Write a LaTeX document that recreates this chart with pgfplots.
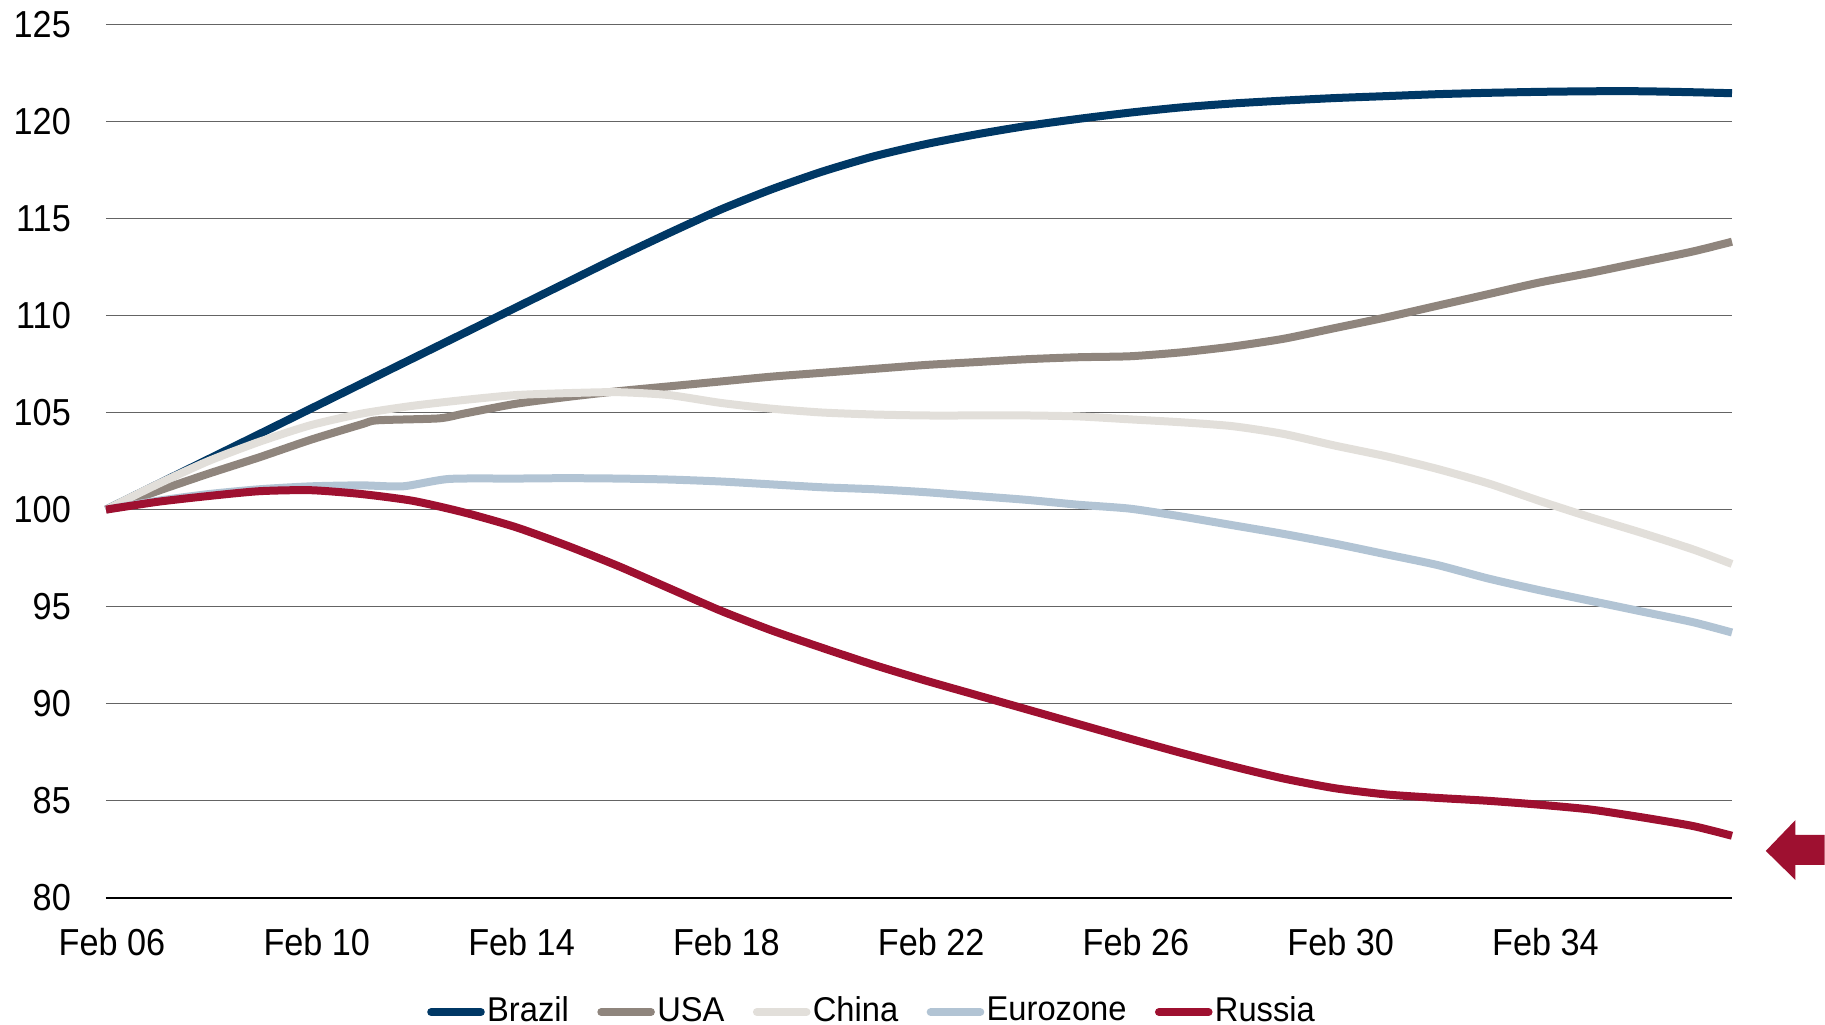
\documentclass[border=0pt]{standalone}
\usepackage{fontspec}
\usepackage{pgfplots}
\pgfplotsset{compat=1.18}
\setmainfont{Liberation Sans}
\newfontfamily\tickfont[FakeStretch=0.91]{Liberation Sans}
\newfontfamily\legfont[FakeStretch=0.95]{Liberation Sans}
\definecolor{cBrazil}{RGB}{0,56,101}
\definecolor{cUSA}{RGB}{143,133,125}
\definecolor{cChina}{RGB}{226,223,218}
\definecolor{cEuro}{RGB}{178,196,212}
\definecolor{cRussia}{RGB}{158,16,48}
\definecolor{gridgray}{RGB}{100,100,100}
\begin{document}
\begin{tikzpicture}
\begin{axis}[
  width=406.5pt, height=218.4pt, scale only axis,
  xmin=0, xmax=31.76, ymin=80, ymax=125,
  enlargelimits=false,
  clip=false,
  axis x line=bottom, axis y line=left,
  axis line style={-},
  x axis line style={black, line width=0.67pt},
  y axis line style={draw=none},
  xtick={0,4,8,12,16,20,24,28},
  xticklabels={Feb 06,Feb 10,Feb 14,Feb 18,Feb 22,Feb 26,Feb 30,Feb 34},
  ytick={80,85,90,95,100,105,110,115,120,125},
  major tick length=0pt,
  ymajorgrids,
  grid style={color=gridgray, line width=0.25pt},
  /pgf/number format/assume math mode=true,
  tick label style={font=\fontsize{9.4}{11}\tickfont},
  yticklabel style={anchor=east, inner sep=0pt, xshift=-8.6pt},
  xticklabel style={anchor=base, inner sep=0pt, yshift=-14.5pt, xshift=1.5pt},
  legend columns=5,
  legend style={draw=none, fill=none, at={(0.4705,-0.1307)}, anchor=center,
    inner sep=0pt, outer sep=0pt,
    font=\fontsize{8.6}{10}\legfont, nodes={inner sep=0pt, outer sep=0pt},
    /tikz/every even column/.append style={column sep=7.1pt},
    /tikz/every odd column/.append style={column sep=0.6pt}},
  legend image code/.code={\draw[#1, line cap=round] (0pt,0pt) -- (12.4pt,0pt);},
  every axis plot/.append style={line width=2pt, line join=round, smooth, tension=0.4},
]
\addplot[color=cBrazil] coordinates {
(0,100) (1,101.3) (2,102.6) (3,103.9) (4,105.2) (5,106.5) (6,107.8) (7,109.1)
(8,110.4) (9,111.7) (10,113.0) (11,114.25) (12,115.45) (13,116.5) (14,117.42)
(15,118.2) (16,118.82) (17,119.33) (18,119.77) (19,120.13) (20,120.45) (21,120.72)
(22,120.92) (23,121.07) (24,121.2) (25,121.3) (26,121.4) (27,121.47) (28,121.52)
(29,121.55) (30,121.55) (31,121.5) (31.76,121.45)};
\addlegendentry{Brazil}
\addplot[color=cUSA] coordinates {
(0,100) (1,100.95) (2,101.85) (3,102.7) (4,103.6) (5,104.4) (5.3,104.6) (6.5,104.7)
(7,104.95) (8,105.45) (9,105.8) (10,106.1) (11,106.35) (12,106.6) (13,106.85)
(14,107.05) (15,107.25) (16,107.45) (17,107.6) (18,107.75) (19,107.85) (20,107.9)
(21,108.1) (22,108.4) (23,108.8) (24,109.35) (25,109.9) (26,110.5) (27,111.1)
(28,111.7) (29,112.2) (30,112.75) (31,113.3) (31.76,113.8)};
\addlegendentry{USA}
\addplot[color=cChina] coordinates {
(0,100) (1,101.3) (2,102.5) (3,103.5) (4,104.35) (5,104.95) (6,105.35) (7,105.65)
(8,105.9) (9,106.0) (10,106.05) (11,105.9) (12,105.5) (13,105.2) (14,105.0)
(15,104.9) (16,104.85) (17,104.85) (18,104.85) (19,104.8) (20,104.65) (21,104.5)
(22,104.3) (23,103.9) (24,103.3) (25,102.75) (26,102.1) (27,101.35) (28,100.45)
(29,99.6) (30,98.8) (31,97.95) (31.76,97.2)};
\addlegendentry{China}
\addplot[color=cEuro] coordinates {
(0,100) (1,100.45) (2,100.8) (3,101.05) (4,101.2) (5,101.25) (5.8,101.2) (6.7,101.58)
(8,101.6) (9,101.62) (10,101.6) (11,101.55) (12,101.45) (13,101.3) (14,101.15)
(15,101.05) (16,100.9) (17,100.7) (18,100.5) (19,100.25) (20,100.05) (21,99.65)
(22,99.2) (23,98.75) (24,98.25) (25,97.7) (26,97.15) (27,96.45) (28,95.85)
(29,95.3) (30,94.75) (31,94.2) (31.76,93.67)};
\addlegendentry{Eurozone}
\addplot[color=cRussia] coordinates {
(0,100) (1,100.4) (2,100.7) (3,100.95) (4,101.0) (5,100.8) (6,100.45) (7,99.85)
(8,99.1) (9,98.15) (10,97.1) (11,95.95) (12,94.8) (13,93.78) (14,92.87) (15,92.0)
(16,91.2) (17,90.45) (18,89.7) (19,88.95) (20,88.2) (21,87.47) (22,86.78)
(23,86.15) (24,85.65) (25,85.33) (26,85.15) (27,85.0) (28,84.8) (29,84.55)
(30,84.15) (31,83.7) (31.76,83.2)};
\addlegendentry{Russia}
\fill[cRussia] (axis cs:32.42,82.42) -- (axis cs:33.0,84.01) -- (axis cs:33.0,83.24)
  -- (axis cs:33.57,83.24) -- (axis cs:33.57,81.7) -- (axis cs:33.0,81.7)
  -- (axis cs:33.0,80.92) -- cycle;
\coordinate (bbA) at (rel axis cs:-0.06519,-0.14448);
\coordinate (bbB) at (rel axis cs:1.0572,1.02782);
\end{axis}
\pgfresetboundingbox
\useasboundingbox (bbA) rectangle (bbB);
\end{tikzpicture}
\end{document}
